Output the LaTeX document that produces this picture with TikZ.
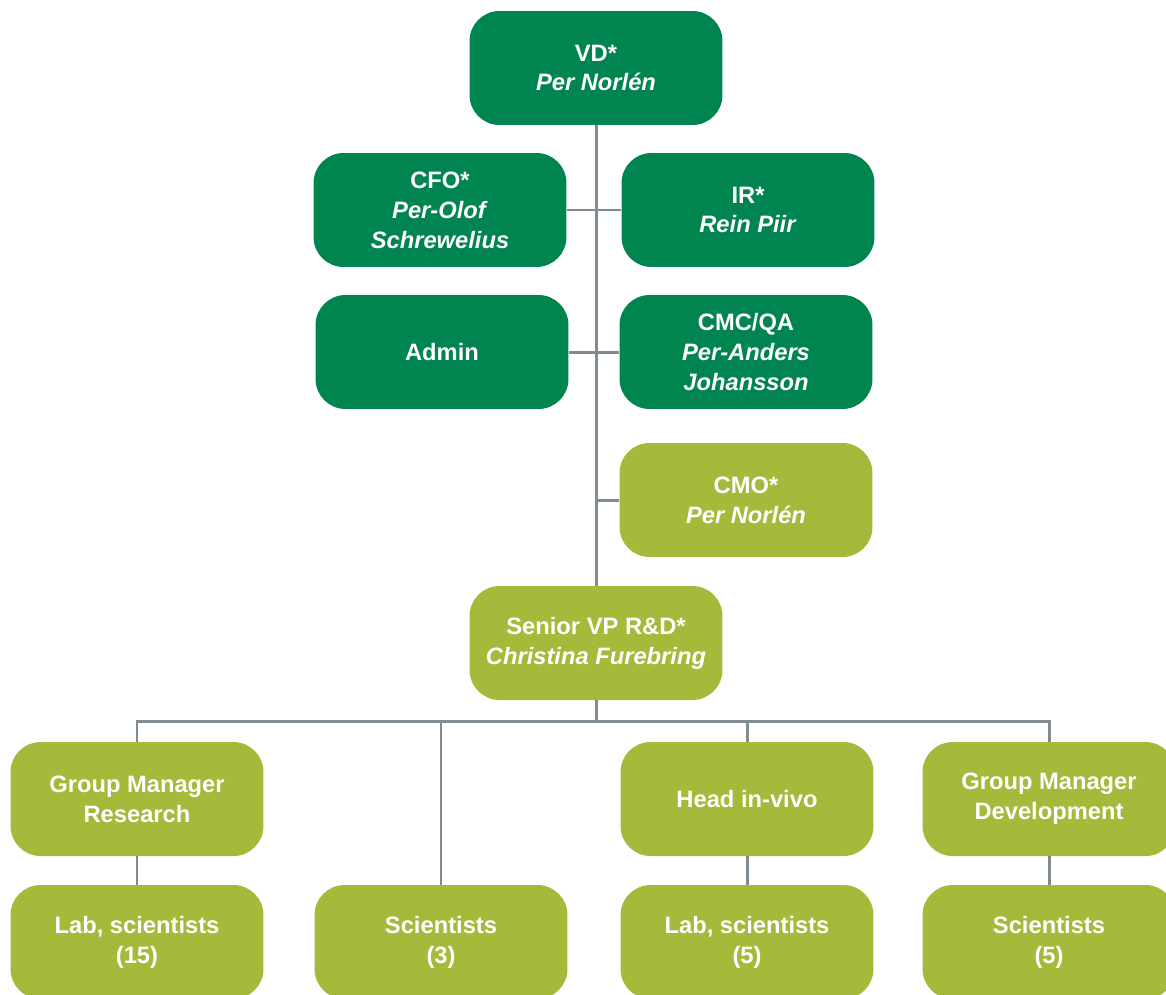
\documentclass[tikz,border=0pt]{standalone}
\usepackage{fontspec}
\setmainfont{Liberation Sans}
\usetikzlibrary{positioning}
\definecolor{dkgreen}{RGB}{0,132,80}
\definecolor{ltgreen}{RGB}{165,186,58}
\definecolor{linegray}{RGB}{128,140,148}

\begin{document}
\begin{tikzpicture}[
    x=0.02cm, y=-0.02cm,
    box/.style={rounded corners=0.6cm, minimum width=5.06cm, minimum height=2.28cm,
                inner sep=0pt, align=center, text=white,
                font=\fontsize{13.5}{17}\selectfont\bfseries},
    dkbox/.style={box, fill=dkgreen},
    ltbox/.style={box, fill=ltgreen},
    link/.style={draw=linegray, line width=1.7pt}
]
\clip (0,0) rectangle (1166,994);

% Management
\node[dkbox] (vd) at (596,68) {VD*\\\textit{Per Norlén}};
\node[dkbox] (cfo) at (440,210) {CFO*\\\textit{Per-Olof}\\\textit{Schrewelius}};
\node[dkbox] (ir) at (748,210) {IR*\\\textit{Rein Piir}};
\node[dkbox] (admin) at (442,352) {Admin};
\node[dkbox] (cmc) at (746,352) {CMC/QA\\\textit{Per-Anders}\\\textit{Johansson}};
\node[ltbox] (cmo) at (746,500) {CMO*\\\textit{Per Norlén}};
\node[ltbox] (svp) at (596,643) {Senior VP R\&D*\\\textit{Christina Furebring}};

% R&D groups
\node[ltbox] (gmres) at (137,799) {Group Manager\\Research};
\node[ltbox] (invivo) at (747,799) {Head in-vivo};
\node[ltbox] (gmdev) at (1049,799) {Group Manager\\Development};

\node[ltbox] (lab15) at (137,942) {Lab, scientists\\(15)};
\node[ltbox] (sci3) at (441,942) {Scientists\\(3)};
\node[ltbox] (lab5) at (747,942) {Lab, scientists\\(5)};
\node[ltbox] (sci5) at (1049,942) {Scientists\\(5)};

% Connectors
\coordinate (bus) at (596,721);
\draw[link] (vd.south) -- (svp.north);
\draw[link] (cfo.east) -- (ir.west);
\draw[link] (admin.east) -- (cmc.west);
\draw[link] (cmo.west) -- (cmo.west -| vd.south);
\draw[link] (svp.south) -- (bus);
\draw[link] (gmres.north) |- (bus) -| (gmdev.north);
\draw[link] (sci3.north) -- (sci3.north |- bus);
\draw[link] (invivo.north) -- (invivo.north |- bus);
\draw[link] (gmres.south) -- (lab15.north);
\draw[link] (invivo.south) -- (lab5.north);
\draw[link] (gmdev.south) -- (sci5.north);

\end{tikzpicture}
\end{document}
